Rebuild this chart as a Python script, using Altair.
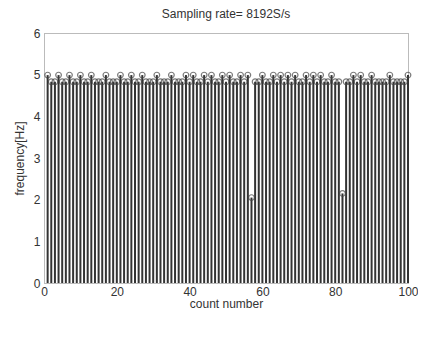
import altair as alt
import pandas as pd

count_number = list(range(1, 101))
frequency = [
    4.99, 4.83, 4.83, 4.99, 4.83, 4.83, 4.99, 4.83, 4.83, 4.99,
    4.83, 4.83, 4.99, 4.83, 4.83, 4.83, 4.99, 4.83, 4.83, 4.83,
    4.99, 4.83, 4.83, 4.99, 4.83, 4.83, 4.99, 4.83, 4.83, 4.83,
    4.99, 4.83, 4.83, 4.83, 4.99, 4.83, 4.83, 4.83, 4.99, 4.83,
    4.99, 4.83, 4.83, 4.99, 4.83, 4.99, 4.83, 4.83, 4.99, 4.83,
    4.99, 4.83, 4.83, 4.99, 4.83, 4.99, 2.05, 4.83, 4.83, 4.99,
    4.83, 4.83, 4.99, 4.83, 4.99, 4.83, 4.99, 4.83, 4.99, 4.83,
    4.83, 4.99, 4.83, 4.99, 4.83, 4.99, 4.83, 4.83, 4.99, 4.83,
    4.83, 2.15, 4.83, 4.83, 4.99, 4.83, 4.99, 4.83, 4.83, 4.99,
    4.83, 4.83, 4.83, 4.83, 4.99, 4.83, 4.83, 4.83, 4.83, 4.99,
]
x_ticks = [0, 20, 40, 60, 80, 100]
y_ticks = [0, 1, 2, 3, 4, 5, 6]

df = pd.DataFrame({"n": count_number, "f": frequency})

font = "Liberation Sans"
x_enc = alt.X("n:Q", scale=alt.Scale(domain=[0, 100], nice=False),
              axis=alt.Axis(values=x_ticks, title="count number", grid=False,
                            ticks=False, domain=False, labelPadding=3,
                            labelFlush=False, labelOverlap=False,
                            titlePadding=1, labelFontSize=12, titleFontSize=12,
                            titleFontWeight="normal", labelColor="#333",
                            titleColor="#333"))
y_enc = alt.Y("f:Q", scale=alt.Scale(domain=[0, 6], nice=False),
              axis=alt.Axis(values=y_ticks, title="frequency[Hz]", grid=False,
                            ticks=False, domain=False, labelPadding=4,
                            labelFlush=False, labelOverlap=False,
                            titlePadding=7, labelFontSize=12, titleFontSize=12,
                            titleFontWeight="normal", labelColor="#333",
                            titleColor="#333"))

stems = alt.Chart(df).mark_rule(color="#333", strokeWidth=2).encode(
    x=x_enc, y=alt.Y("f:Q"), y2=alt.datum(0)
)
markers = alt.Chart(df).mark_point(shape="circle", filled=False, size=32,
                                   color="#444", strokeWidth=1.2).encode(
    x="n:Q", y="f:Q"
)

chart = (stems + markers).encode(y=y_enc).properties(
    width=364, height=250,
    title=alt.Title("Sampling rate= 8192S/s", fontSize=12, fontWeight="normal",
                    font=font, color="#333", offset=6),
    autosize=alt.AutoSizeParams(type="none"),
    padding={"left": 36, "top": 25, "right": 10, "bottom": 60},
).configure_view(stroke="#777", strokeDash=[1, 1], strokeWidth=1
).configure_axis(labelFont=font, titleFont=font)

chart.save("out.html", embed_options={"renderer": "svg", "actions": False})
